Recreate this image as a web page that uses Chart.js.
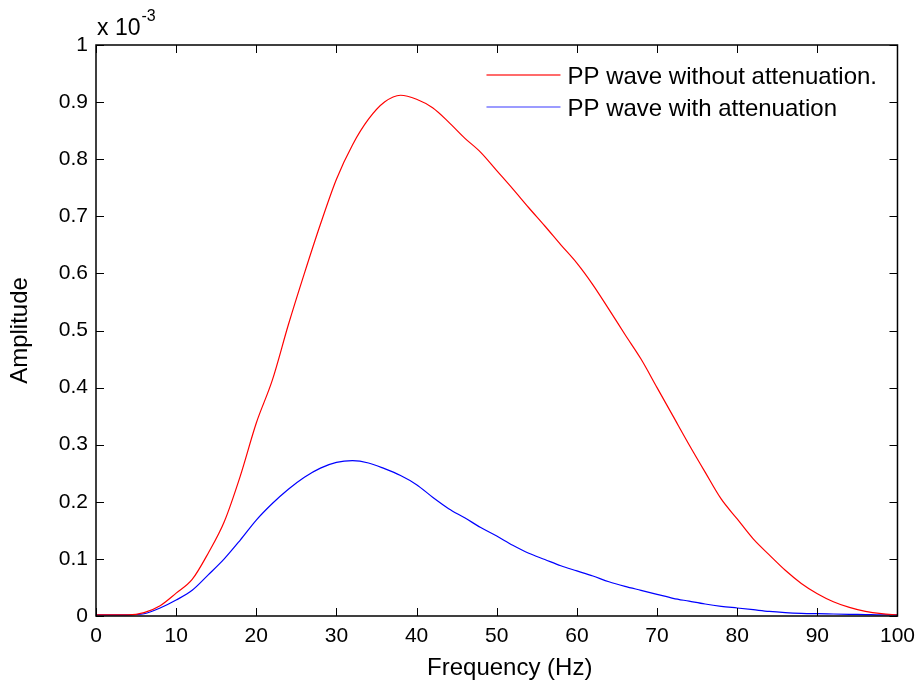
<!DOCTYPE html>
<html>
<head>
<meta charset="utf-8">
<script src="https://cdn.jsdelivr.net/npm/chart.js@4.4.0/dist/chart.umd.min.js"></script>
<style>
  html, body { margin: 0; padding: 0; background: #fff; }
  #wrap { width: 923px; height: 688px; }
</style>
</head>
<body>
<div id="wrap"><canvas id="chart" width="923" height="688"></canvas></div>
<script>
// frequency axis (Hz)
const freq = [0, 2, 4, 6, 8, 10, 12, 14, 16, 18, 20, 22, 24, 26, 28, 30, 32, 34, 36, 38, 40,
  42, 44, 46, 48, 50, 52, 54, 56, 58, 60, 62, 64, 66, 68, 70, 72, 74, 76, 78, 80,
  82, 84, 86, 88, 90, 92, 94, 96, 98, 100]

// amplitudes, in units of 1e-3
const ampNoAtten = [0.002, 0.002, 0.002, 0.006, 0.018, 0.040, 0.064, 0.110, 0.165, 0.245, 0.338,
  0.413, 0.510, 0.600, 0.686, 0.765, 0.825, 0.870, 0.900, 0.912, 0.905,
  0.890, 0.865, 0.837, 0.812, 0.780, 0.748, 0.715, 0.683, 0.650, 0.618,
  0.580, 0.537, 0.493, 0.450, 0.400, 0.350, 0.300, 0.252, 0.205, 0.170,
  0.135, 0.107, 0.080, 0.057, 0.039, 0.025, 0.015, 0.008, 0.004, 0.002]

const ampAtten = [0.002, 0.002, 0.002, 0.004, 0.014, 0.028, 0.045, 0.072, 0.100, 0.133, 0.168,
  0.197, 0.222, 0.243, 0.259, 0.269, 0.272, 0.268, 0.258, 0.246, 0.230,
  0.208, 0.188, 0.172, 0.155, 0.140, 0.124, 0.110, 0.099, 0.088, 0.079,
  0.070, 0.060, 0.052, 0.045, 0.038, 0.031, 0.026, 0.021, 0.017, 0.014,
  0.011, 0.008, 0.006, 0.0047, 0.004, 0.0035, 0.003, 0.0025, 0.002, 0.002]

const seriesLabels = ['PP wave without attenuation.', 'PP wave with attenuation']
const legendColors = ['#ff3a3a', '#7a7aff']
const xTitle = 'Frequency (Hz)'
const yTitle = 'Amplitude'

const FONT = 'Arial, "Liberation Sans", sans-serif'

const toPoints = (ys) => freq.map((f, i) => ({ x: f, y: ys[i] }))

// inward ticks on all four sides + full box, MATLAB style
const boxTicks = {
  id: 'boxTicks',
  afterDraw(chart) {
    const { ctx, chartArea: a, scales } = chart
    const len = 8
    ctx.save()
    ctx.strokeStyle = '#000'
    ctx.lineWidth = 1
    scales.x.ticks.forEach(t => {
      const px = Math.round(scales.x.getPixelForValue(t.value)) + 0.5
      ctx.beginPath()
      ctx.moveTo(px, a.bottom); ctx.lineTo(px, a.bottom - len)
      ctx.moveTo(px, a.top); ctx.lineTo(px, a.top + len)
      ctx.stroke()
    })
    scales.y.ticks.forEach(t => {
      const py = Math.round(scales.y.getPixelForValue(t.value)) + 0.5
      ctx.beginPath()
      ctx.moveTo(a.left, py); ctx.lineTo(a.left + len, py)
      ctx.moveTo(a.right, py); ctx.lineTo(a.right - len, py)
      ctx.stroke()
    })
    ctx.lineWidth = 1.5
    ctx.strokeRect(a.left, a.top, a.right - a.left, a.bottom - a.top)

    // exponent label
    ctx.fillStyle = '#000'
    ctx.textBaseline = 'alphabetic'
    ctx.font = '23px ' + FONT
    ctx.fillText('x 10', a.left + 1, a.top - 10)
    const w = ctx.measureText('x 10').width
    ctx.font = '16px ' + FONT
    ctx.fillText('-3', a.left + 2 + w, a.top - 24)

    // x axis title (sits a bit right of centre in the original)
    ctx.font = '24px ' + FONT
    ctx.textAlign = 'center'
    ctx.fillText(xTitle, (a.left + a.right) / 2 + 13, 675)
    ctx.textAlign = 'left'

    // legend
    ctx.font = '24px ' + FONT
    ctx.textBaseline = 'middle'
    chart.data.datasets.forEach((ds, i) => {
      const y = a.top + 30 + i * 32
      const x0 = a.right - 411
      ctx.strokeStyle = legendColors[i]
      ctx.lineWidth = 1.5
      ctx.beginPath()
      ctx.moveTo(x0, y); ctx.lineTo(x0 + 74, y)
      ctx.stroke()
      ctx.fillStyle = '#000'
      ctx.fillText(ds.label, x0 + 81, y + 2)
    })
    ctx.restore()
  }
}

new Chart(document.getElementById('chart'), {
  type: 'line',
  data: {
    datasets: [
      { label: seriesLabels[0], data: toPoints(ampNoAtten), borderColor: '#ff0000', borderWidth: 1.2, pointRadius: 0, cubicInterpolationMode: 'monotone', fill: false },
      { label: seriesLabels[1], data: toPoints(ampAtten), borderColor: '#0000ff', borderWidth: 1.2, pointRadius: 0, cubicInterpolationMode: 'monotone', fill: false }
    ]
  },
  options: {
    responsive: false,
    animation: false,
    layout: { padding: { top: 45, right: 24, left: 0, bottom: 0 } },
    plugins: { legend: { display: false }, tooltip: { enabled: false } },
    scales: {
      x: {
        type: 'linear', min: 0, max: 100,
        grid: { display: false, drawTicks: false },
        border: { display: false },
        ticks: { stepSize: 10, padding: 8, color: '#000', font: { family: FONT, size: 21 }, maxRotation: 0 },
        title: { display: false },
        afterFit: s => { s.height = 72 }
      },
      y: {
        type: 'linear', min: 0, max: 1,
        grid: { display: false, drawTicks: false },
        border: { display: false },
        ticks: { stepSize: 0.1, padding: 8, color: '#000', font: { family: FONT, size: 21 },
          callback: v => Math.round(v * 10) / 10 + '' },
        title: { display: true, text: yTitle, color: '#000', font: { family: FONT, size: 24 }, padding: { top: 6, bottom: 0 } },
        afterFit: s => { s.width = 96 }
      }
    }
  },
  plugins: [boxTicks]
})
</script>
</body>
</html>
